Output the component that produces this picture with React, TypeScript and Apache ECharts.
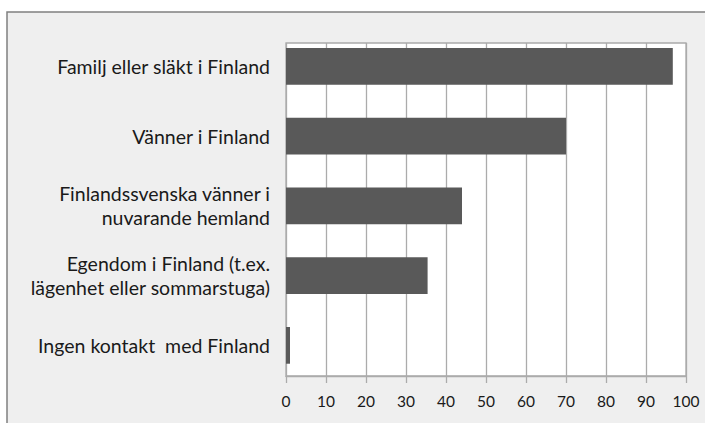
import React, { useEffect, useRef } from "react";
import * as echarts from "echarts";

const categories = [
  "Familj eller släkt i Finland",
  "Vänner i Finland",
  "Finlandssvenska vänner i\nnuvarande hemland",
  "Egendom i Finland (t.ex.\nlägenhet eller sommarstuga)",
  "Ingen kontakt  med Finland",
];
const values = [96.7, 70, 44, 35.4, 1];
const xMin = 0;
const xMax = 100;
const xInterval = 10;

const FONT = "Lato";
const GRID_LINE = "#ababab";

export default function App() {
  const ref = useRef<HTMLDivElement>(null);
  useEffect(() => {
    if (!ref.current) return;
    const chart = echarts.init(ref.current, null, { renderer: "svg" });
    chart.setOption({
      animation: false,
      backgroundColor: "#ffffff",
      graphic: [
        {
          type: "rect",
          z: -10,
          shape: { x: 7, y: 12, width: 900, height: 600 },
          style: { fill: "#efefef", stroke: "#808080", lineWidth: 1.5 },
        },
      ],
      grid: [
        {
          left: 286,
          top: 43,
          width: 400,
          height: 333,
          show: true,
          backgroundColor: "#ffffff",
          borderColor: GRID_LINE,
          borderWidth: 1.3,
        },
        { left: 286, top: 31.5, width: 400, height: 348.75, show: false },
      ],
      xAxis: [
        {
          gridIndex: 0,
          type: "value",
          min: xMin,
          max: xMax,
          interval: xInterval,
          axisLine: { show: true, lineStyle: { color: GRID_LINE, width: 1.3 } },
          axisTick: { show: true, length: 7, lineStyle: { color: GRID_LINE, width: 1.3 } },
          splitLine: { show: true, lineStyle: { color: GRID_LINE, width: 1.3 } },
          axisLabel: { margin: 17, fontSize: 15.5, color: "#1a1a1a", fontFamily: FONT },
        },
        { gridIndex: 1, type: "value", min: xMin, max: xMax, show: false },
      ],
      yAxis: [
        { gridIndex: 0, type: "category", data: categories, show: false },
        {
          gridIndex: 1,
          type: "category",
          data: categories,
          inverse: true,
          axisLine: { show: false },
          axisTick: { show: false },
          splitLine: { show: false },
          axisLabel: {
            margin: 16,
            fontSize: 19.5,
            lineHeight: 24,
            color: "#1a1a1a",
            fontFamily: FONT,
            align: "right",
          },
        },
      ],
      series: [
        {
          type: "bar",
          xAxisIndex: 1,
          yAxisIndex: 1,
          data: values,
          barWidth: 36.7,
          itemStyle: { color: "#595959" },
        },
      ],
    });
    return () => chart.dispose();
  }, []);
  return (
    <div
      ref={ref}
      style={{ position: "absolute", left: 0, top: 0, width: 705, height: 423 }}
    />
  );
}
